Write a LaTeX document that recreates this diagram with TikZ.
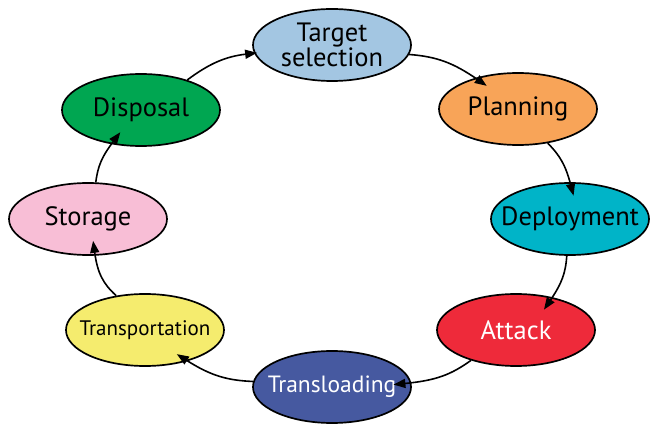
\documentclass[tikz,border=0pt]{standalone}
\usepackage{fontspec}
\setmainfont{PT Sans}
\usetikzlibrary{shapes.geometric,arrows.meta}
\definecolor{cTarget}{RGB}{163,198,226}
\definecolor{cPlan}{RGB}{248,164,88}
\definecolor{cDeploy}{RGB}{0,180,200}
\definecolor{cAttack}{RGB}{238,42,58}
\definecolor{cTrans}{RGB}{70,89,160}
\definecolor{cTransp}{RGB}{245,236,110}
\definecolor{cStore}{RGB}{248,190,214}
\definecolor{cDisp}{RGB}{0,166,81}
\tikzset{
  stage/.style={ellipse, draw=black, line width=1.7pt, minimum width=158pt, minimum height=72pt, inner sep=-17pt, font=\fontsize{26.5}{25}\selectfont, align=center},
  flow/.style={line width=1.6pt, -{Triangle[length=12pt,width=9pt]}, bend left=15}
}
\begin{document}
\begin{tikzpicture}[x=1pt,y=1pt]
\useasboundingbox (0,0) rectangle (650,423);
\node[stage, fill=cTarget] (target) at (332,378) {Target\\selection};
\node[stage, fill=cPlan] (plan) at (518,314) {Planning};
\node[stage, fill=cDeploy] (deploy) at (570,204) {Deployment};
\node[stage, fill=cAttack, text=white] (attack) at (516,93) {Attack};
\node[stage, fill=cTrans, text=white, font=\fontsize{23.5}{25}\selectfont] (transl) at (332,36) {Transloading};
\node[stage, fill=cTransp, font=\fontsize{21}{23}\selectfont] (transp) at (145,93) {Transportation};
\node[stage, fill=cStore] (store) at (88,204) {Storage};
\node[stage, fill=cDisp] (disp) at (141,313) {Disposal};
\draw[flow, shorten >=-14pt] (target.-7) to (plan.144);
\draw[flow, shorten >=-14pt] (plan.-49) to (deploy.90);
\draw[flow, shorten >=-15pt] (deploy.-95) to (attack.42);
\draw[flow, shorten >=-18pt] (attack.-146) to (transl.3);
\draw[flow, shorten >=-13pt] (transl.176) to (transp.-36);
\draw[flow, shorten >=-15pt, bend left=20] (transp.130) to (store.-79);
\draw[flow, shorten >=-15pt] (store.78) to (disp.-131);
\draw[flow, shorten >=-3pt] (disp.33) to (target.186);
\end{tikzpicture}
\end{document}
